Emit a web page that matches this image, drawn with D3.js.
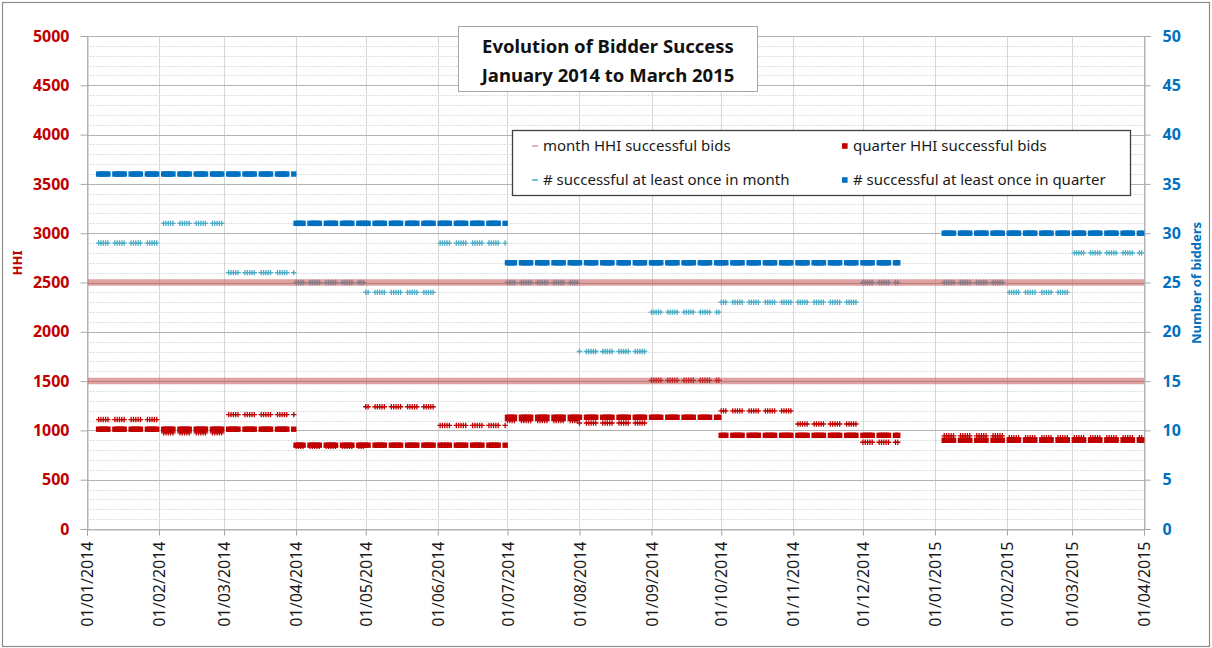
<!DOCTYPE html>
<html>
<head>
<meta charset="utf-8">
<script src="https://cdn.jsdelivr.net/npm/d3@7"></script>
<style>
  body { margin: 0; background: #fff; }
  svg text { font-family: "Noto Sans", sans-serif; }
</style>
</head>
<body>
<div id="chart"></div>
<script>
// Monthly values, Jan 2014 .. Mar 2015
const months = ['2014-01', '2014-02', '2014-03', '2014-04', '2014-05', '2014-06', '2014-07', '2014-08',
                '2014-09', '2014-10', '2014-11', '2014-12', '2015-01', '2015-02', '2015-03'];
const monthHHI = [1110, 975, 1160, 838, 1240, 1050, 1100, 1075, 1508, 1198, 1065, 880, 945, 925, 925];
const monthBidders = [29, 31, 26, 25, 24, 29, 25, 18, 22, 23, 23, 25, 25, 24, 28];

// Quarterly values
const quarters = ['Q1 2014', 'Q2 2014', 'Q3 2014', 'Q4 2014', 'Q1 2015'];
const quarterHHI = [1012, 850, 1133, 950, 900];
const quarterBidders = [36, 31, 27, 27, 30];

// Trading days covered by the data
const periods = [['2014-01-06', '2014-12-16'], ['2015-01-05', '2015-03-31']];

// Reference lines and axis ticks
const thresholds = [1500, 2500];
const hhiTicks = [0, 500, 1000, 1500, 2000, 2500, 3000, 3500, 4000, 4500, 5000];
const bidderTicks = [0, 5, 10, 15, 20, 25, 30, 35, 40, 45, 50];
const dateTicks = ['2014-01-01', '2014-02-01', '2014-03-01', '2014-04-01', '2014-05-01', '2014-06-01',
                   '2014-07-01', '2014-08-01', '2014-09-01', '2014-10-01', '2014-11-01', '2014-12-01',
                   '2015-01-01', '2015-02-01', '2015-03-01', '2015-04-01'];

const parse = d3.utcParse('%Y-%m-%d');
const parseMonth = d3.utcParse('%Y-%m');

// Expand the monthly / quarterly values onto every weekday of the data periods
const days = [];
periods.forEach(([a, b]) => {
    d3.utcDay.range(parse(a), d3.utcDay.offset(parse(b), 1)).forEach(date => {
        const wd = date.getUTCDay();
        if (wd === 0 || wd === 6) return;
        const m = months.findIndex(s => +parseMonth(s) === +d3.utcMonth.floor(date));
        const q = Math.floor(m / 3);
        days.push({ date, mHHI: monthHHI[m], mBid: monthBidders[m], qHHI: quarterHHI[q], qBid: quarterBidders[q] });
    });
});

const W = 1212, H = 648;
const plot = { left: 87, right: 1144, top: 36, bottom: 529 };

const svg = d3.select('#chart')
    .append('svg')
    .attr('width', W)
    .attr('height', H);

// Chart border
svg.append('rect')
    .attr('x', 2.5).attr('y', 2.5)
    .attr('width', W - 5).attr('height', H - 4)
    .attr('fill', '#fff')
    .attr('stroke', '#8c8c8c')
    .attr('stroke-width', 1.2);

const x = d3.scaleUtc()
    .domain([parse(dateTicks[0]), parse(dateTicks[dateTicks.length - 1])])
    .range([plot.left, plot.right]);

const yL = d3.scaleLinear().domain([0, 5000]).range([plot.bottom, plot.top]);
const yR = d3.scaleLinear().domain([0, 50]).range([plot.bottom, plot.top]);

// Minor gridlines (dotted)
svg.append('g')
    .selectAll('line')
    .data(d3.range(100, 5000, 100).filter(v => v % 500 !== 0))
    .enter()
    .append('line')
    .attr('x1', plot.left).attr('x2', plot.right)
    .attr('y1', d => Math.round(yL(d)) + 0.5).attr('y2', d => Math.round(yL(d)) + 0.5)
    .attr('stroke', '#d4d4d4')
    .attr('stroke-dasharray', '1.5,1.5');

// Vertical gridlines at each month
svg.append('g')
    .selectAll('line')
    .data(dateTicks.map(parse))
    .enter()
    .append('line')
    .attr('x1', d => Math.round(x(d)) + 0.5).attr('x2', d => Math.round(x(d)) + 0.5)
    .attr('y1', plot.top).attr('y2', plot.bottom)
    .attr('stroke', '#d6d6d6');

// Major gridlines
svg.append('g')
    .selectAll('line')
    .data(hhiTicks)
    .enter()
    .append('line')
    .attr('x1', plot.left).attr('x2', plot.right)
    .attr('y1', d => Math.round(yL(d)) + 0.5).attr('y2', d => Math.round(yL(d)) + 0.5)
    .attr('stroke', '#b3b3b3');

// Plot border
svg.append('rect')
    .attr('x', plot.left + 0.5).attr('y', plot.top + 0.5)
    .attr('width', plot.right - plot.left).attr('height', plot.bottom - plot.top)
    .attr('fill', 'none')
    .attr('stroke', '#b3b3b3');

// Axes
const axisL = svg.append('g')
    .attr('transform', `translate(${plot.left + 0.5},0)`)
    .call(d3.axisLeft(yL).tickValues(hhiTicks).tickFormat(d3.format('d')).tickSize(7).tickPadding(11));
axisL.selectAll('text')
    .attr('fill', '#c00000')
    .style('font-size', '16px')
    .style('font-weight', 'bold');

const axisR = svg.append('g')
    .attr('transform', `translate(${plot.right + 0.5},0)`)
    .call(d3.axisRight(yR).tickValues(bidderTicks).tickSize(6).tickPadding(12));
axisR.selectAll('text')
    .attr('fill', '#0070c0')
    .style('font-size', '16px')
    .style('font-weight', 'bold');

const axisB = svg.append('g')
    .attr('transform', `translate(0,${plot.bottom + 0.5})`)
    .call(d3.axisBottom(x).tickValues(dateTicks.map(parse)).tickSize(6).tickFormat(d3.utcFormat('%d/%m/%Y')));
axisB.selectAll('text')
    .attr('transform', 'rotate(-90)')
    .attr('x', -12)
    .attr('y', 0)
    .attr('dy', '0.35em')
    .style('text-anchor', 'end')
    .attr('fill', '#1a1a1a')
    .style('font-size', '16px');

[axisL, axisR, axisB].forEach(a => {
    a.select('.domain').attr('stroke', '#b3b3b3');
    a.selectAll('.tick line').attr('stroke', '#a6a6a6');
});

// Axis titles
svg.append('text')
    .attr('transform', 'translate(22,263) rotate(-90)')
    .attr('text-anchor', 'middle')
    .attr('fill', '#c00000')
    .style('font-size', '13px')
    .style('font-weight', 'bold')
    .text('HHI');

svg.append('text')
    .attr('transform', 'translate(1201,283) rotate(-90)')
    .attr('text-anchor', 'middle')
    .attr('fill', '#0070c0')
    .style('font-size', '13px')
    .style('font-weight', 'bold')
    .text('Number of bidders');

// Series
const plus = 'M-2.7,0H2.7M0,-2.7V2.7';
const sq = 5.4;

svg.append('g').selectAll('path')
    .data(days).enter().append('path')
    .attr('d', plus)
    .attr('transform', d => `translate(${x(d.date)},${yL(d.mHHI)})`)
    .attr('stroke', '#c00000')
    .attr('stroke-width', 1.3);

svg.append('g').selectAll('rect')
    .data(days).enter().append('rect')
    .attr('x', d => x(d.date) - sq / 2)
    .attr('y', d => yL(d.qHHI) - sq / 2)
    .attr('width', sq).attr('height', sq)
    .attr('fill', '#c00000');

svg.append('g').selectAll('path')
    .data(days).enter().append('path')
    .attr('d', plus)
    .attr('transform', d => `translate(${x(d.date)},${yR(d.mBid)})`)
    .attr('stroke', '#4bacc6')
    .attr('stroke-width', 1.3);

svg.append('g').selectAll('rect')
    .data(days).enter().append('rect')
    .attr('x', d => x(d.date) - sq / 2)
    .attr('y', d => yR(d.qBid) - sq / 2)
    .attr('width', sq).attr('height', sq)
    .attr('fill', '#0070c0');

// HHI threshold bands
svg.append('g').selectAll('line')
    .data(thresholds).enter().append('line')
    .attr('x1', plot.left + 1).attr('x2', plot.right)
    .attr('y1', d => yL(d)).attr('y2', d => yL(d))
    .attr('stroke', '#c0504d')
    .attr('stroke-opacity', 0.53)
    .attr('stroke-width', 6.5);

// Title box
const title = svg.append('g');
title.append('rect')
    .attr('x', 458.5).attr('y', 26.5)
    .attr('width', 299).attr('height', 65)
    .attr('fill', '#fff')
    .attr('stroke', '#a6a6a6');
title.append('text')
    .attr('x', 608).attr('y', 53)
    .attr('text-anchor', 'middle')
    .style('font-size', '18.5px')
    .style('font-weight', 'bold')
    .attr('fill', '#111')
    .text('Evolution of Bidder Success');
title.append('text')
    .attr('x', 608).attr('y', 82)
    .attr('text-anchor', 'middle')
    .style('font-size', '18.5px')
    .style('font-weight', 'bold')
    .attr('fill', '#111')
    .text('January 2014 to March 2015');

// Legend
const legendNames = ['month HHI successful bids', 'quarter HHI successful bids',
                     '# successful at least once in month', '# successful at least once in quarter'];
const legend = svg.append('g');
legend.append('rect')
    .attr('x', 512.5).attr('y', 130.5)
    .attr('width', 618).attr('height', 65)
    .attr('fill', '#fff')
    .attr('stroke', '#404040')
    .attr('stroke-width', 1.3);

const legendItems = legend.selectAll('.legend-item')
    .data(legendNames)
    .enter()
    .append('g')
    .attr('class', 'legend-item')
    .attr('transform', (d, i) => `translate(${i % 2 ? 842 : 532},${i < 2 ? 146 : 180})`);

legendItems.filter((d, i) => i % 2 === 0).append('line')
    .attr('x1', 0).attr('x2', 6)
    .attr('stroke', (d, i) => i === 0 ? '#dc9a9a' : '#4bacc6')
    .attr('stroke-width', 1.5);

legendItems.filter((d, i) => i % 2 === 1).append('rect')
    .attr('x', 0).attr('y', -2.8)
    .attr('width', 5.6).attr('height', 5.6)
    .attr('fill', (d, i) => i === 0 ? '#c00000' : '#0070c0');

legendItems.append('text')
    .attr('x', 11)
    .attr('y', 0)
    .attr('dy', '0.36em')
    .style('font-size', '15px')
    .attr('fill', '#1a1a1a')
    .text(d => d);
</script>
</body>
</html>
